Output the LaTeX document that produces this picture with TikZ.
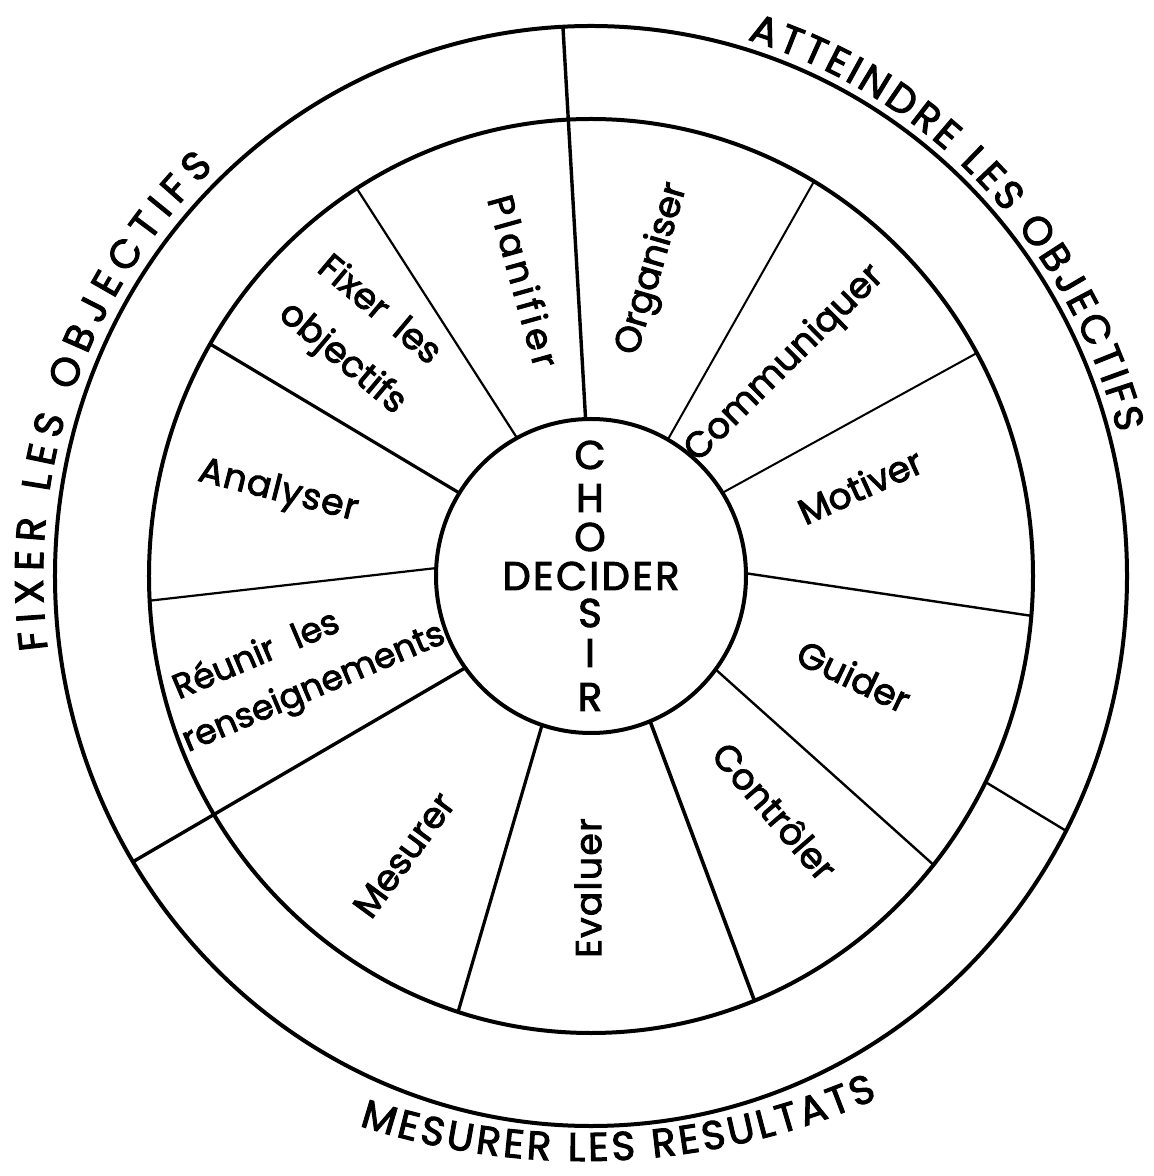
\documentclass[tikz,border=0pt]{standalone}
\usepackage{fontspec}
\setmainfont{Poppins}[FakeBold=2.5]
\usepackage{tikz}
\usetikzlibrary{decorations.text}

\newcommand\wheelfont{\fontsize{18}{27}\selectfont}
\newcommand\hubfont{\fontsize{20}{24}\selectfont\addfontfeature{LetterSpace=6}}
\newcommand\ringfont{\fontsize{20}{24}\selectfont}

\tikzset{
  % --- lines
  rim/.style       = {line width=2pt},
  spoke/.style     = {line width=#1},
  spoke/.default   = 1.6pt,
  % --- nodes
  lbl/.style       = {font=\wheelfont, inner sep=0pt, align=left},
  wide/.style      = {font=\wheelfont\addfontfeature{LetterSpace=#1}},
  hub/.style       = {font=\hubfont, inner sep=0pt},
  % --- text round the rim
  ringtxt/.style   = {decorate, decoration={text along path, text align={fit to path},
                      text={|\ringfont|#1}}},
}

\begin{document}
\begin{tikzpicture}[x=0.5pt, y=0.5pt]
  \useasboundingbox (-591,-600) rectangle (562,576);

  % three rings
  \draw[rim] (0,0) ellipse [x radius=536, y radius=550];
  \draw[rim] (0,0) ellipse [x radius=442, y radius=457];
  \draw[rim] (0,0) ellipse [x radius=155, y radius=157];

  % spokes between hub and ring
  \foreach \ai/\ao/\w in {60.3/59.7/1pt, 32/29.2/1pt, 1/-5/1.2pt, -36.5/-39.2/1.2pt,
                          -67.6/-68.3/1.8pt, -108.4/-107.5/1.6pt, 177.1/183.1/1.1pt,
                          148.1/149.5/1.6pt, 118.5/122/1.1pt}
    \draw[spoke=\w] (\ai:155 and 157) -- (\ao:442 and 457);

  % spokes that cut the ring too
  \draw[spoke=1.7pt] (92:155 and 157) -- (93:536 and 550);
  \draw[spoke=1.7pt] (215.8:155 and 157) -- (211.3:536 and 550);
  \draw[spoke=1.2pt] (-26.8:442 and 457) -- (-27.6:536 and 550);

  % sectors
  \node[lbl, wide=12, rotate=-74.4] (planifier) at (-67,295) {Planifier};
  \node[lbl, rotate=73.8]  (organiser)   at (62,307)    {Organiser};
  \node[lbl, rotate=44.7]  (communiquer) at (194,212)   {Communiquer};
  \node[lbl, rotate=24.4]  (motiver)     at (269,90)    {Motiver};
  \node[lbl, rotate=-25.4] (guider)      at (263,-100)  {Guider};
  \node[lbl, rotate=-49.2] (controler)   at (184,-235)  {Contrôler};
  \node[lbl, wide=4, rotate=90] (evaluer) at (-3,-312)  {Evaluer};
  \node[lbl, rotate=53.7]  (mesurer)     at (-187,-279) {Mesurer};
  \node[lbl, rotate=23, font=\fontsize{17.3}{26}\selectfont]
                           (reunir)      at (-287,-89)
                           {\hspace{6pt}Réunir\hspace{0.6em}les\\renseignements};
  \node[lbl, wide=3, rotate=-14.2] (analyser) at (-313,84) {Analyser};
  \node[lbl, rotate=-40, font=\fontsize{18}{30}\selectfont]
                           (fixer)       at (-230,240)  {Fixer\hspace{0.5em}les\\objectifs};

  % hub
  \node[hub] (decider) at (0,0) {DECIDER};
  \foreach \l/\y [count=\i] in {C/121, H/78, O/39, S/-37, I/-77, R/-121}
    \node[hub] (choisir\i) at (-1,\y) {\l};

  % words round the rim
  \path[ringtxt={FIXER LES OBJECTIFS}]
    (187.5:548 and 563) arc[start angle=187.5, end angle=133.5, x radius=548, y radius=563];
  \path[ringtxt={ATTEINDRE LES OBJECTIFS}]
    (73.3:545 and 560) arc[start angle=73.3, end angle=14.8, x radius=545, y radius=560];
  \path[ringtxt={MESURER LES RESULTATS}]
    ([shift={(-8,139)}]-108:724) arc[start angle=-108, end angle=-66, radius=724];
\end{tikzpicture}
\end{document}
